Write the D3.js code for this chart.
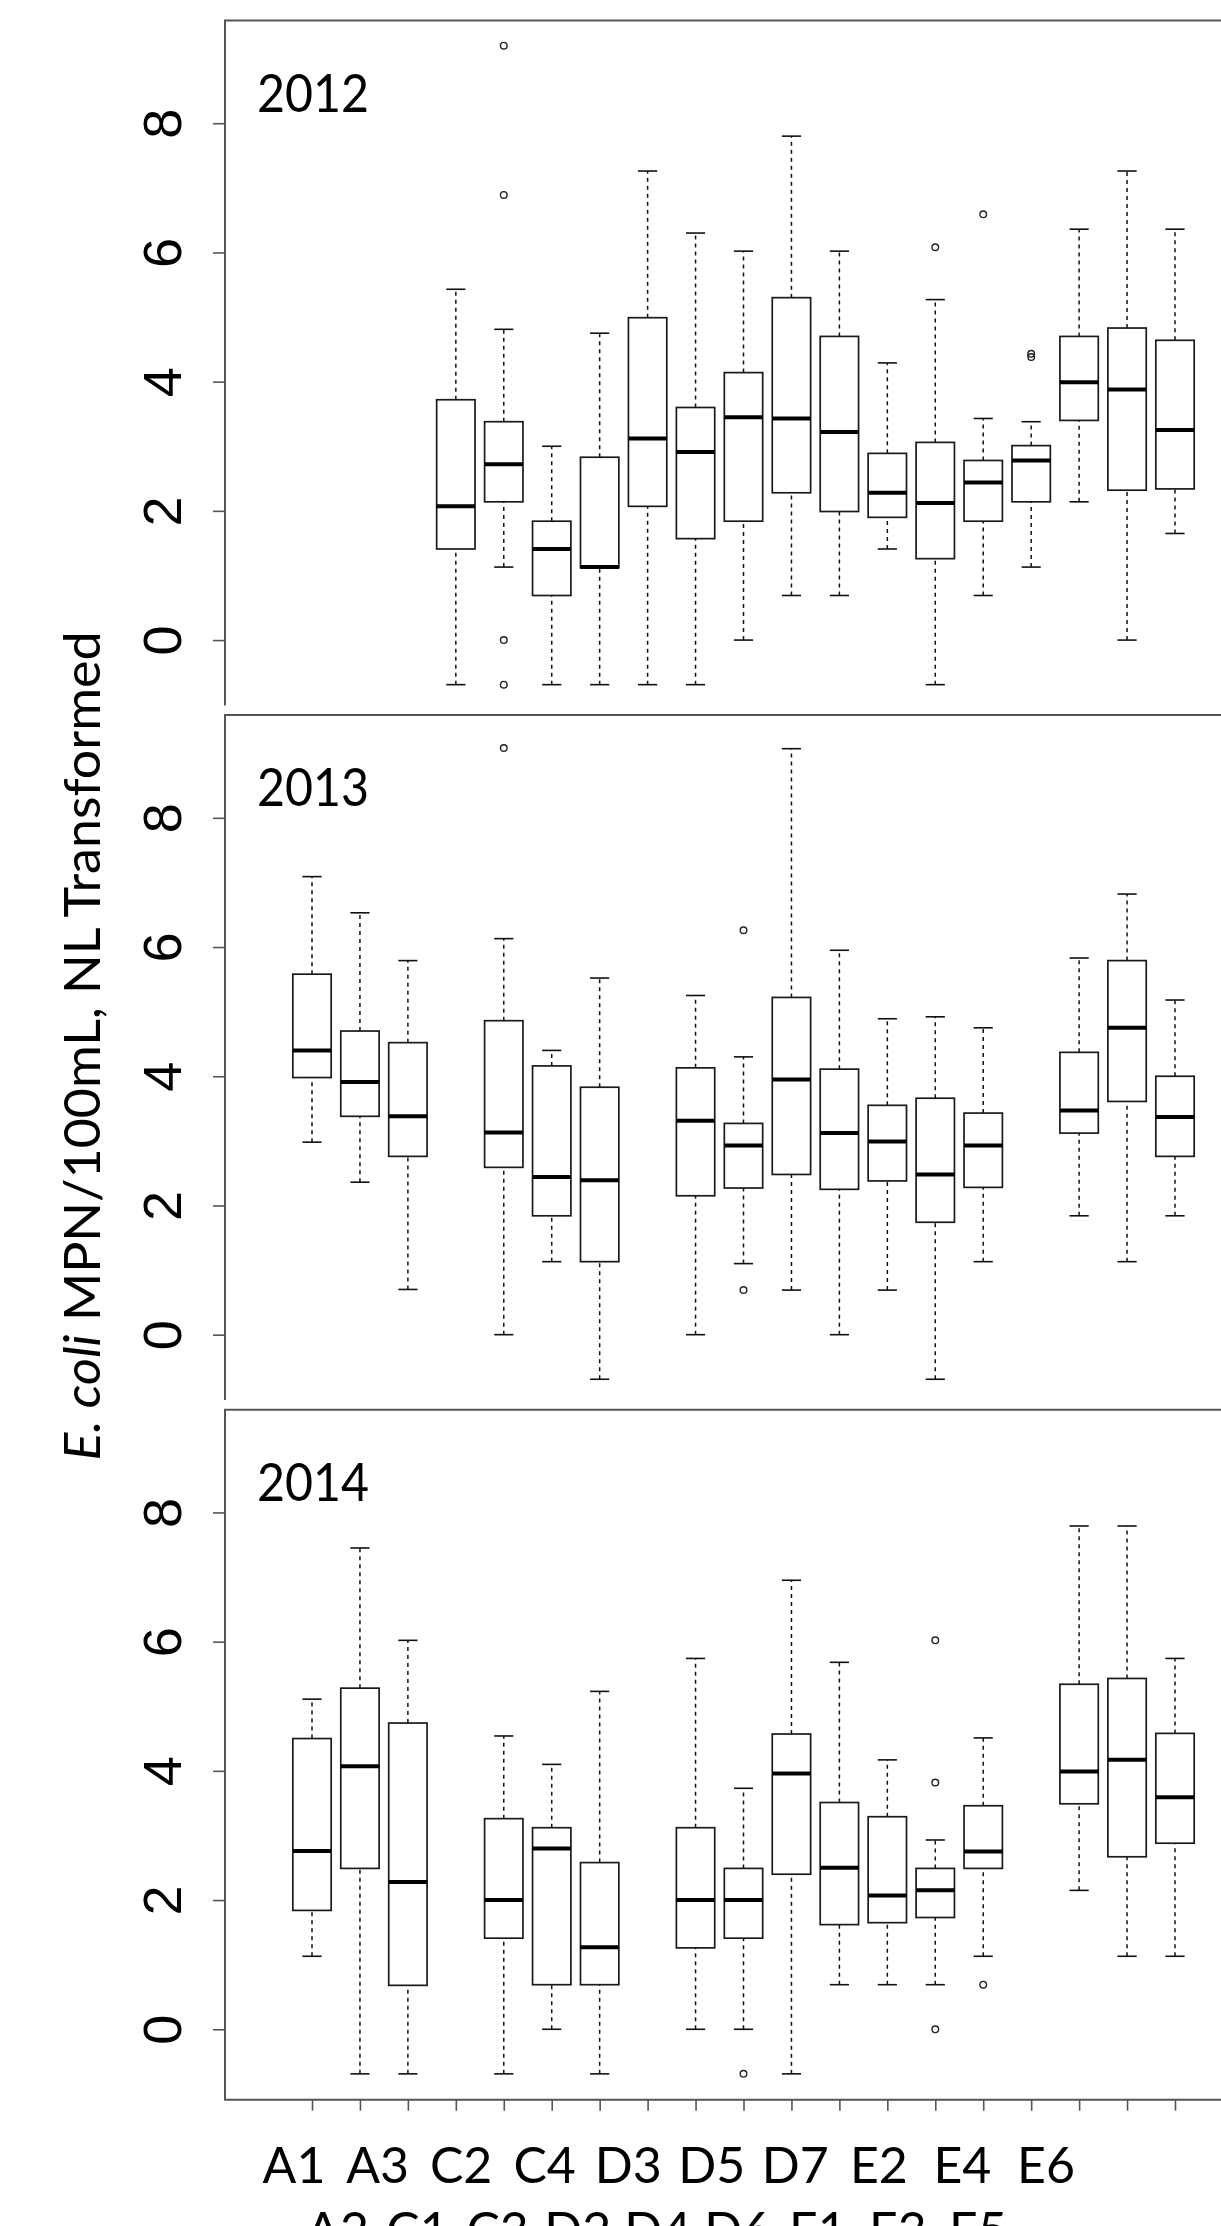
<!DOCTYPE html>
<html>
<head>
<meta charset="utf-8">
<script src="https://cdn.jsdelivr.net/npm/d3@7"></script>
<style>
  body { margin: 0; background: #fff; }
  svg { display: block; }
</style>
</head>
<body>
<div id="chart"></div>
<script>
// sampling sites, in plotting order
const categories = ["A1", "A2", "A3", "C1", "C2", "C3", "C4", "D2", "D3", "D4",
                    "D5", "D6", "D7", "E1", "E2", "E3", "E4", "E5", "E6"];
const years = ["2012", "2013", "2014"];

// [lower whisker, Q1, median, Q3, upper whisker], null = no samples that year
const stats2012 = [
    null, null, null,
    [-0.69, 1.41, 2.07, 3.72, 5.43],
    [1.13, 2.14, 2.72, 3.38, 4.81],
    [-0.69, 0.69, 1.41, 1.84, 3.00],
    [-0.69, 1.12, 1.13, 2.83, 4.75],
    [-0.69, 2.07, 3.12, 4.99, 7.26],
    [-0.69, 1.57, 2.91, 3.60, 6.30],
    [0.00, 1.84, 3.45, 4.14, 6.02],
    [0.69, 2.28, 3.43, 5.30, 7.80],
    [0.69, 1.99, 3.22, 4.70, 6.02],
    [1.41, 1.90, 2.28, 2.89, 4.29],
    [-0.69, 1.26, 2.12, 3.06, 5.27],
    [0.69, 1.84, 2.44, 2.78, 3.43],
    [1.13, 2.14, 2.78, 3.01, 3.38],
    [2.14, 3.40, 3.99, 4.70, 6.36],
    [0.00, 2.32, 3.88, 4.83, 7.26],
    [1.65, 2.34, 3.25, 4.64, 6.36]
];
const stats2013 = [
    [2.98, 3.98, 4.40, 5.58, 7.09],
    [2.36, 3.38, 3.91, 4.70, 6.53],
    [0.70, 2.76, 3.38, 4.52, 5.79],
    null,
    [0.00, 2.59, 3.13, 4.86, 6.13],
    [1.13, 1.84, 2.44, 4.16, 4.40],
    [-0.69, 1.13, 2.39, 3.83, 5.52],
    null,
    [0.00, 2.15, 3.31, 4.13, 5.25],
    [1.10, 2.27, 2.93, 3.27, 4.30],
    [0.69, 2.48, 3.95, 5.22, 9.07],
    [0.00, 2.25, 3.12, 4.11, 5.95],
    [0.69, 2.38, 2.99, 3.55, 4.89],
    [-0.69, 1.74, 2.48, 3.66, 4.92],
    [1.13, 2.28, 2.93, 3.43, 4.75],
    null,
    [1.84, 3.12, 3.47, 4.37, 5.83],
    [1.13, 3.61, 4.75, 5.79, 6.82],
    [1.84, 2.76, 3.37, 4.00, 5.18]
];
const stats2014 = [
    [1.13, 1.84, 2.76, 4.50, 5.11],
    [-0.69, 2.49, 4.07, 5.28, 7.45],
    [-0.69, 0.68, 2.28, 4.74, 6.02],
    null,
    [-0.69, 1.41, 2.00, 3.26, 4.54],
    [0.00, 0.69, 2.80, 3.12, 4.10],
    [-0.69, 0.69, 1.27, 2.58, 5.23],
    null,
    [0.00, 1.26, 2.00, 3.12, 5.74],
    [0.00, 1.41, 2.00, 2.49, 3.73],
    [-0.69, 2.40, 3.96, 4.57, 6.95],
    [0.69, 1.62, 2.50, 3.51, 5.68],
    [0.69, 1.65, 2.07, 3.29, 4.17],
    [0.69, 1.73, 2.15, 2.49, 2.93],
    [1.13, 2.49, 2.75, 3.46, 4.51],
    null,
    [2.15, 3.49, 3.99, 5.34, 7.79],
    [1.13, 2.67, 4.17, 5.43, 7.79],
    [1.13, 2.88, 3.59, 4.58, 5.74]
];

// outlying points: [site, value]
const outliers2012 = [["C2", 9.20], ["C2", 6.89], ["C2", 0.00], ["C2", -0.69],
                      ["E1", 6.08], ["E2", 6.59], ["E3", 4.43], ["E3", 4.38]];
const outliers2013 = [["C2", 9.08], ["D4", 6.26], ["D4", 0.69]];
const outliers2014 = [["D4", -0.69], ["E1", 6.02], ["E1", 3.82], ["E1", 0.00], ["E2", 0.69]];

const yTicks = [0, 2, 4, 6, 8];
const labelsRow1 = ["A1", "A3", "C2", "C4", "D3", "D5", "D7", "E2", "E4", "E6"];
const labelsRow2 = ["A2", "C1", "C3", "D2", "D4", "D6", "E1", "E3", "E5"];

const panels = [
    { year: years[0], stats: stats2012, outliers: outliers2012 },
    { year: years[1], stats: stats2013, outliers: outliers2013 },
    { year: years[2], stats: stats2014, outliers: outliers2014 }
];

const width = 1221, height = 2226;
const left = 225, firstTop = 20.5, panelStep = 694.6, panelH = 690;
const frameColor = "#555";

const svg = d3.select("#chart").append("svg")
    .attr("width", width)
    .attr("height", height);

const y = d3.scaleLinear().domain([-1.09, 9.59]).range([panelH, 0]);
const x = d3.scalePoint().domain(categories).range([312, 1175]);
const boxW = x.step() * 0.8;

panels.forEach((p, i) => {
    let last = i === panels.length - 1;
    let g = svg.append("g")
        .attr("transform", `translate(0,${firstTop + i * panelStep})`);

    // frame: the top two panels are cropped just above their bottom edge
    g.append("path")
        .attr("d", last
            ? `M${width + 5},0H${left}V${panelH}H${width + 5}`
            : `M${width + 5},0H${left}V${panelH - 5}`)
        .attr("fill", "none")
        .attr("stroke", frameColor)
        .attr("stroke-width", 2);

    let yAxis = g.append("g")
        .attr("transform", `translate(${left},0)`)
        .call(d3.axisLeft(y).tickValues(yTicks).tickSize(12).tickFormat(d3.format("d")));
    yAxis.select(".domain").remove();
    yAxis.selectAll("line").attr("stroke", frameColor).attr("stroke-width", 1.6);
    yAxis.selectAll("text")
        .attr("x", null)
        .attr("dy", null)
        .attr("text-anchor", "middle")
        .attr("transform", "translate(-44.5,0) rotate(-90)")
        .attr("fill", "#000")
        .style("font-family", "'Liberation Sans', Arial, sans-serif")
        .style("font-size", "54px");

    if (last) {
        let xAxis = g.append("g")
            .attr("transform", `translate(0,${panelH})`)
            .call(d3.axisBottom(x).tickSize(11).tickFormat(""));
        xAxis.select(".domain").remove();
        xAxis.selectAll("line").attr("stroke", frameColor).attr("stroke-width", 1.6);
    }

    g.append("text")
        .attr("x", 257)
        .attr("y", 91)
        .style("font-family", "Lato, 'Open Sans', sans-serif")
        .style("font-size", "52px")
        .attr("textLength", 112)
        .attr("lengthAdjust", "spacingAndGlyphs")
        .text(p.year);

    let rows = categories.map((c, k) => ({ cat: c, s: p.stats[k] })).filter(d => d.s);
    let box = g.selectAll("g.box")
        .data(rows)
        .join("g")
        .attr("class", "box")
        .attr("transform", d => `translate(${x(d.cat)},0)`);

    // whiskers
    box.append("line")
        .attr("y1", d => y(d.s[0])).attr("y2", d => y(d.s[1]))
        .attr("stroke", "#111").attr("stroke-width", 1.5).attr("stroke-dasharray", "4,4");
    box.append("line")
        .attr("y1", d => y(d.s[3])).attr("y2", d => y(d.s[4]))
        .attr("stroke", "#111").attr("stroke-width", 1.5).attr("stroke-dasharray", "4,4");

    // staples
    [0, 4].forEach(k => {
        box.append("line")
            .attr("x1", -boxW / 4).attr("x2", boxW / 4)
            .attr("y1", d => y(d.s[k])).attr("y2", d => y(d.s[k]))
            .attr("stroke", "#111").attr("stroke-width", 1.6);
    });

    box.append("rect")
        .attr("x", -boxW / 2)
        .attr("width", boxW)
        .attr("y", d => y(d.s[3]))
        .attr("height", d => y(d.s[1]) - y(d.s[3]))
        .attr("fill", "#fff")
        .attr("stroke", "#1a1a1a")
        .attr("stroke-width", 1.7);

    box.append("line")
        .attr("x1", -boxW / 2).attr("x2", boxW / 2)
        .attr("y1", d => y(d.s[2])).attr("y2", d => y(d.s[2]))
        .attr("stroke", "#000").attr("stroke-width", 4);

    g.selectAll("circle.out")
        .data(p.outliers)
        .join("circle")
        .attr("class", "out")
        .attr("cx", d => x(d[0]))
        .attr("cy", d => y(d[1]))
        .attr("r", 3.3)
        .attr("fill", "none")
        .attr("stroke", "#222")
        .attr("stroke-width", 1.4);
});

// site labels, typed in two staggered rows under the bottom panel
const row1 = d3.scalePoint().domain(labelsRow1).range([294, 1046]);
const row2 = d3.scalePoint().domain(labelsRow2).range([337.5, 978]);
const labelFont = "Lato, 'Open Sans', sans-serif";

svg.append("g").selectAll("text")
    .data(labelsRow1)
    .join("text")
    .attr("x", d => row1(d))
    .attr("y", 2183)
    .attr("text-anchor", "middle")
    .style("font-family", labelFont)
    .style("font-size", "50px")
    .text(d => d);

svg.append("g").selectAll("text")
    .data(labelsRow2)
    .join("text")
    .attr("x", d => row2(d))
    .attr("y", 2248)
    .attr("text-anchor", "middle")
    .style("font-family", labelFont)
    .style("font-size", "50px")
    .text(d => d);

// y axis title
let title = svg.append("text")
    .attr("transform", "translate(100,1046) rotate(-90)")
    .attr("text-anchor", "middle")
    .attr("textLength", 829)
    .attr("lengthAdjust", "spacingAndGlyphs")
    .style("font-family", labelFont)
    .style("font-size", "50px");
title.append("tspan").style("font-style", "italic").text("E. coli");
title.append("tspan").text(" MPN/100mL, NL Transformed");
</script>
</body>
</html>
